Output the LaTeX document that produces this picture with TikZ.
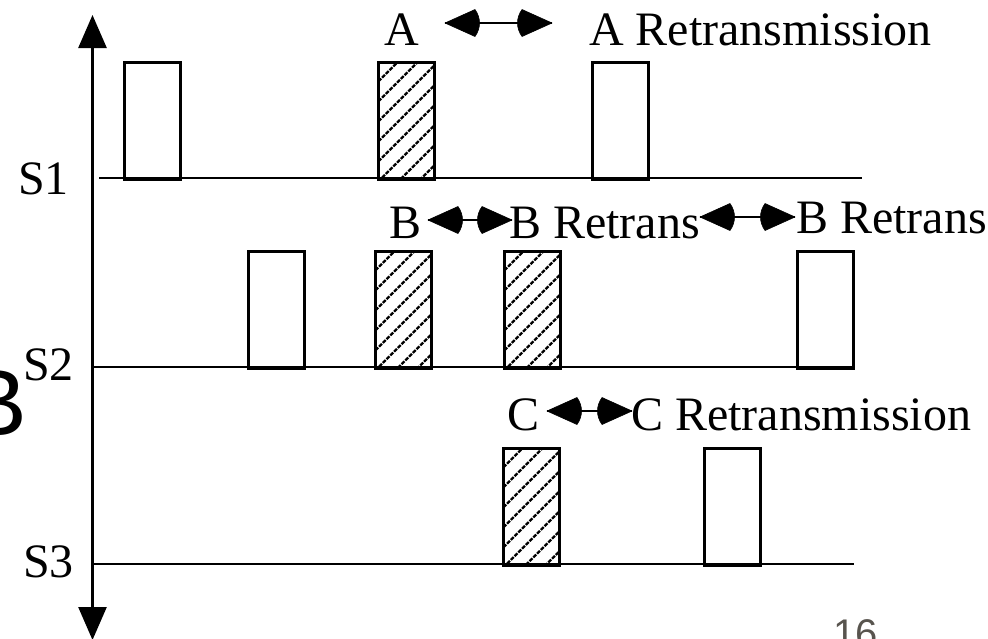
\documentclass[tikz,border=0pt]{standalone}
\usepackage{fontspec}
\setmainfont{Liberation Serif}
\newfontfamily\arialf{Liberation Sans}
\usetikzlibrary{arrows.meta}
\definecolor{pagegray}{RGB}{88,84,78}
% double arrow with filled heads whose backs are rounded: start, end
\newcommand\dblarr[2]{%
  \draw[arrline] (#1) -- (#2);
  \fill[headfill] (#1) -- ++(30,-13.5) to[bend left=35] ++(0,27) -- cycle;
  \fill[headfill] (#2) -- ++(-30,-13.5) to[bend right=35] ++(0,27) -- cycle;
}
\begin{document}
\begin{tikzpicture}[x=1pt,y=-1pt,
  lbl/.style={font=\fontsize{48}{48}\selectfont, inner sep=0pt, anchor=base west},
  pkt/.style={draw, line width=2.8pt, minimum width=56pt, minimum height=117pt, inner sep=0pt, anchor=north west},
  hatchline/.style={line width=2.3pt, dash pattern=on 4pt off 1.3pt},
  hatched/.style={pkt, path picture={
      \foreach \d in {19,39,...,199}
        \draw[hatchline] ([yshift=-\d pt]path picture bounding box.north west) -- ++(45:280pt);
    }},
  baseline/.style={line width=2.2pt},
  axis/.style={line width=2.6pt, {Triangle[length=33pt,width=28pt]}-{Triangle[length=33pt,width=28pt]}},
  arrline/.style={line width=2.2pt},
  headfill/.style={fill=black, draw=black, line width=0.6pt, line join=round}
]
\useasboundingbox (0,0) rectangle (988,638);

% time axis
\coordinate (axtop) at (92.5,15);
\coordinate (axbot) at (92.5,640);
\draw[axis] (axbot) -- (axtop);

% station base lines
\coordinate (s1a) at (99,178);  \coordinate (s1b) at (862,178);
\coordinate (s2a) at (92.5,367); \coordinate (s2b) at (852,367);
\coordinate (s3a) at (92.5,564); \coordinate (s3b) at (854,564);
\draw[baseline] (s1a) -- (s1b);
\draw[baseline] (s2a) -- (s2b);
\draw[baseline] (s3a) -- (s3b);

% station labels
\node[lbl] (S1) at (18,194) {S1};
\node[lbl] (S2) at (23,380) {S2};
\node[lbl] (S3) at (23,577) {S3};

% packets S1
\node[pkt] (p1) at (123,61) {};
\node[hatched] (pA) at (377,61) {};
\node[pkt] (pAr) at (591,61) {};
% packets S2
\node[pkt] (q1) at (247,250) {};
\node[hatched] (qB) at (374,250) {};
\node[hatched] (qBr) at (503,250) {};
\node[pkt] (qBr2) at (796,250) {};
% packets S3
\node[hatched] (cC) at (502,447) {};
\node[pkt] (cCr) at (703,447) {};

% labels and arrows
\node[lbl] (tA) at (384,45) {A};
\node[lbl] (tAr) at (589,45) {A Retransmission};
\coordinate (a1) at (445,23); \coordinate (a2) at (552,23);
\dblarr{a1}{a2}

\node[lbl] (tB) at (389,238) {B};
\node[lbl] (tBr) at (509,238) {B Retrans};
\node[lbl] (tBr2) at (796,233) {B Retrans};
\coordinate (b1) at (428,220); \coordinate (b2) at (512,220);
\dblarr{b1}{b2}
\coordinate (b3) at (700,217); \coordinate (b4) at (795,217);
\dblarr{b3}{b4}

\node[lbl] (tC) at (507,430) {C};
\node[lbl] (tCr) at (631,430) {C Retransmission};
\coordinate (c1) at (547,411); \coordinate (c2) at (632,411);
\dblarr{c1}{c2}

% clipped large letter and page number
\node[font=\arialf\fontsize{94}{94}\selectfont, anchor=base east, inner sep=0pt] (bigB) at (27,435) {B};
\node[font=\arialf\fontsize{40}{40}\selectfont, text=pagegray, anchor=base west, inner sep=0pt] (pg) at (833,647) {16};
\end{tikzpicture}
\end{document}
